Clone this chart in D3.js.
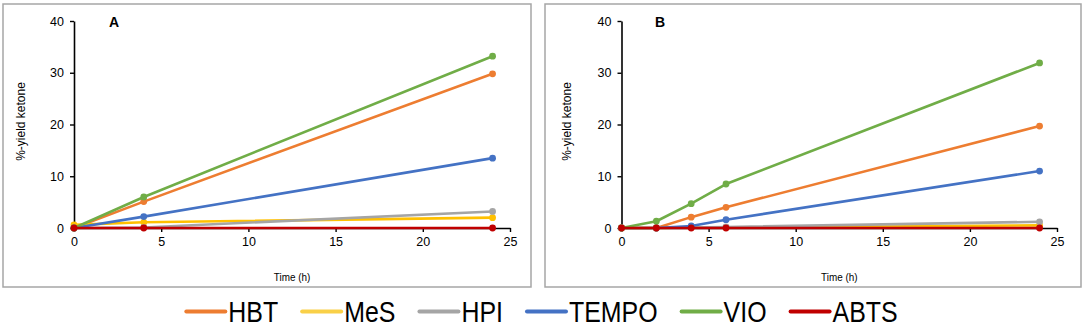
<!DOCTYPE html>
<html>
<head>
<meta charset="utf-8">
<script src="https://cdn.jsdelivr.net/npm/d3@7"></script>
<style>
    body { margin: 0; background: #fff; }
    svg { display: block; }
</style>
</head>
<body>
<div id="viz"></div>
<script>
// series in legend order
const seriesNames = ['HBT', 'MeS', 'HPI', 'TEMPO', 'VIO', 'ABTS'];

// panel A
const timesA = [0, 4, 24];
const hbtA = [0, 5.1, 29.8];
const mesA = [0.6, 1.1, 2.0];
const hpiA = [0, 0.1, 3.2];
const tempoA = [0, 2.2, 13.5];
const vioA = [0, 6.0, 33.2];
const abtsA = [0, 0, 0];

// panel B
const timesB = [0, 2, 4, 6, 24];
const hbtB = [0, 0, 2.1, 4.0, 19.7];
const mesB = [0, 0, 0.1, 0.1, 0.5];
const hpiB = [0, 0, 0.1, 0.2, 1.2];
const tempoB = [0, 0, 0.4, 1.6, 11.0];
const vioB = [0, 1.3, 4.7, 8.5, 31.9];
const abtsB = [0, 0, 0, 0, 0];

const xTicks = [0, 5, 10, 15, 20, 25];
const yTicks = [0, 10, 20, 30, 40];

const lineColours = ['#ED7D31', '#FFC000', '#A5A5A5', '#4472C4', '#70AD47', '#C00000'];
const legendColours = ['#ED7D31', '#F9D048', '#A5A5A5', '#4472C4', '#70AD47', '#C00000'];

const W = 1084, H = 327;

const panels = [
    { label: 'A', times: timesA, series: [hbtA, mesA, hpiA, tempoA, vioA, abtsA],
      box: [3, 4, 531, 287], plotX: [74, 510], titleX: 22, tagX: 109 },
    { label: 'B', times: timesB, series: [hbtB, mesB, hpiB, tempoB, vioB, abtsB],
      box: [545, 4, 1081, 287], plotX: [621.5, 1057], titleX: 568, tagX: 655 }
];
const plotY = [228, 21];

const svg = d3.select('#viz').append('svg')
    .attr('width', W)
    .attr('height', H);

panels.forEach((p) => {
    const g = svg.append('g');

    g.append('rect')
        .attr('x', p.box[0])
        .attr('y', p.box[1])
        .attr('width', p.box[2] - p.box[0])
        .attr('height', p.box[3] - p.box[1])
        .attr('fill', '#fff')
        .attr('stroke', '#a6a6a6')
        .attr('stroke-width', 1.5);

    const x = d3.scaleLinear().domain([0, 25]).range(p.plotX);
    const y = d3.scaleLinear().domain([0, 40]).range(plotY);

    const xAxis = g.append('g')
        .attr('transform', 'translate(0,' + plotY[0] + ')')
        .call(d3.axisBottom(x).tickValues(xTicks).tickSize(4).tickSizeOuter(0).tickPadding(5));
    const yAxis = g.append('g')
        .attr('transform', 'translate(' + p.plotX[0] + ',0)')
        .call(d3.axisLeft(y).tickValues(yTicks).tickSize(4).tickSizeOuter(0).tickPadding(6));

    [xAxis, yAxis].forEach((a) => {
        a.select('.domain').attr('stroke', '#000').attr('stroke-width', 1.6);
        a.selectAll('.tick line').attr('stroke', '#000').attr('stroke-width', 1.4);
        a.selectAll('.tick text')
            .attr('fill', '#000')
            .style('font-family', '"Liberation Sans", Arial, sans-serif')
            .style('font-size', '12.5px');
    });

    g.append('text')
        .attr('transform', 'translate(' + p.titleX + ',' + ((plotY[0] + plotY[1]) / 2 - 3) + ') rotate(-90)')
        .attr('text-anchor', 'middle')
        .attr('dominant-baseline', 'middle')
        .style('font-family', '"Liberation Sans", Arial, sans-serif')
        .style('font-size', '12px')
        .text('%-yield ketone');

    g.append('text')
        .attr('transform', 'translate(' + (p.plotX[0] + p.plotX[1]) / 2 + ',281) scale(0.9,1)')
        .attr('text-anchor', 'middle')
        .style('font-family', '"Liberation Sans", Arial, sans-serif')
        .style('font-size', '11px')
        .text('Time (h)');

    g.append('text')
        .attr('x', p.tagX)
        .attr('y', 27)
        .style('font-family', '"Liberation Sans", Arial, sans-serif')
        .style('font-size', '14px')
        .style('font-weight', 'bold')
        .text(p.label);

    const line = d3.line()
        .x((d) => x(d[0]))
        .y((d) => y(d[1]));

    p.series.forEach((vals, i) => {
        const pts = p.times.map((t, j) => [t, vals[j]]);
        g.append('path')
            .datum(pts)
            .attr('fill', 'none')
            .attr('stroke', lineColours[i])
            .attr('stroke-width', 2.6)
            .attr('stroke-linejoin', 'round')
            .attr('d', line);
        g.selectAll(null).data(pts)
            .enter().append('circle')
            .attr('cx', (d) => x(d[0]))
            .attr('cy', (d) => y(d[1]))
            .attr('r', 3.4)
            .attr('fill', lineColours[i]);
    });
});

// legend, laid out left to right and centred; text squeezed to look condensed
const legend = svg.append('g');
const swatchW = 39, swatchGap = 3, itemGap = 24, squeeze = 0.86;
const legendY = 311.5;
let cursor = 0;
const items = seriesNames.map((name, i) => {
    const item = legend.append('g');
    item.append('line')
        .attr('x1', 0).attr('x2', swatchW)
        .attr('y1', 0).attr('y2', 0)
        .attr('stroke', legendColours[i])
        .attr('stroke-width', 4)
        .attr('stroke-linecap', 'round');
    const t = item.append('text')
        .attr('transform', 'translate(' + (swatchW + swatchGap) + ',10.5) scale(' + squeeze + ',1)')
        .style('font-family', '"Liberation Sans", Arial, sans-serif')
        .style('font-size', '29px')
        .text(name);
    const w = swatchW + swatchGap + t.node().getComputedTextLength() * squeeze;
    const x0 = cursor;
    cursor += w + itemGap;
    return { item, x0 };
});
const total = cursor - itemGap;
const start = (W - total) / 2;
items.forEach((d) => {
    d.item.attr('transform', 'translate(' + (start + d.x0) + ',' + legendY + ')');
});
</script>
</body>
</html>
